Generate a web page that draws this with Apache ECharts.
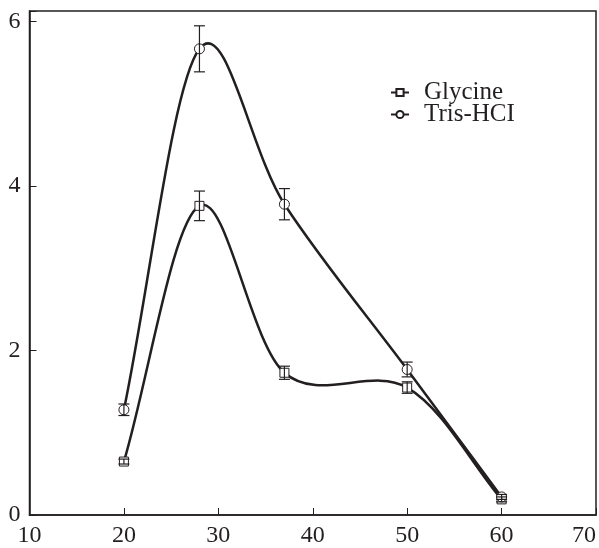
<!DOCTYPE html>
<html>
<head>
<meta charset="utf-8">
<script src="https://cdn.jsdelivr.net/npm/echarts@6/dist/echarts.min.js"></script>
<style>
  html, body { margin: 0; padding: 0; background: #fff; }
  #chart { width: 599px; height: 548px; }
</style>
</head>
<body>
<div id="chart"></div>
<script>
// temperature (x) and the two buffers
const temps = [20, 28, 37, 50, 60]
const glycine = [0.65, 3.76, 1.73, 1.55, 0.19]
const glycineErr = [0.03, 0.18, 0.08, 0.07, 0.03]
const tris = [1.28, 5.67, 3.78, 1.77, 0.22]
const trisErr = [0.07, 0.28, 0.19, 0.09, 0.03]
const xTicks = [10, 20, 30, 40, 50, 60, 70]
const yTicks = [0, 2, 4, 6]

const FONT = 'Liberation Serif'
const INK = '#231f20'

function pairs(ys) {
  return temps.map((t, i) => [t, ys[i]])
}
function errRows(ys, errs) {
  return temps.map((t, i) => [t, ys[i] - errs[i], ys[i] + errs[i]])
}

// error bars, drawn through the axis scales
function errorBar(params, api) {
  const x = api.value(0)
  const lo = api.coord([x, api.value(1)])
  const hi = api.coord([x, api.value(2)])
  const w = 5.5
  const style = { stroke: INK, lineWidth: 1.2 }
  return {
    type: 'group',
    children: [
      { type: 'line', shape: { x1: lo[0], y1: lo[1], x2: hi[0], y2: hi[1] }, style },
      { type: 'line', shape: { x1: lo[0] - w, y1: lo[1], x2: lo[0] + w, y2: lo[1] }, style },
      { type: 'line', shape: { x1: hi[0] - w, y1: hi[1], x2: hi[0] + w, y2: hi[1] }, style }
    ]
  }
}

// catmull-rom style curve through the data points (like the original plot),
// one bezier segment per point, all positions from api.coord
function curve(ys) {
  return function (params, api) {
    const i = params.dataIndex
    const n = temps.length
    if (i >= n - 1) return null
    const p = temps.map((t, k) => api.coord([t, ys[k]]))
    const p1 = p[i]
    const p2 = p[i + 1]
    // ends: mirror the neighbour so the curve leaves the end point straighter
    const p0 = i > 0 ? p[i - 1] : [2 * p1[0] - p2[0], 2 * p1[1] - p2[1]]
    const p3 = i + 2 < n ? p[i + 2] : [2 * p2[0] - p1[0], 2 * p2[1] - p1[1]]
    return {
      type: 'bezierCurve',
      shape: {
        x1: p1[0], y1: p1[1], x2: p2[0], y2: p2[1],
        cpx1: p1[0] + (p2[0] - p0[0]) / 6, cpy1: p1[1] + (p2[1] - p0[1]) / 6,
        cpx2: p2[0] - (p3[0] - p1[0]) / 6, cpy2: p2[1] - (p3[1] - p1[1]) / 6
      },
      style: { stroke: INK, lineWidth: 2.5, fill: null }
    }
  }
}

const chart = echarts.init(document.getElementById('chart'))
chart.setOption({
  animation: false,
  textStyle: { fontFamily: FONT },
  grid: {
    left: 29.5, right: 2, top: 11, bottom: 29,
    show: true, borderColor: INK, borderWidth: 1.5
  },
  legend: {
    orient: 'vertical',
    left: 390, top: 80, padding: 0,
    itemWidth: 18, itemHeight: 9, itemGap: -3,
    data: ['Glycine', 'Tris-HCI'],
    lineStyle: { color: INK, width: 2, opacity: 1 },
    textStyle: { fontFamily: FONT, fontSize: 25, color: INK, lineHeight: 22, padding: [0, 0, 0, 10] }
  },
  xAxis: {
    type: 'value',
    min: xTicks[0], max: xTicks[xTicks.length - 1], interval: 10,
    splitLine: { show: false },
    axisLine: { lineStyle: { color: INK, width: 1.5 } },
    axisTick: { inside: true, length: 7, lineStyle: { color: INK, width: 1 } },
    axisLabel: { fontFamily: FONT, fontSize: 24, color: INK, margin: 9, alignMaxLabel: 'right' }
  },
  yAxis: {
    type: 'value',
    min: yTicks[0], max: 6.13, interval: 2,
    splitLine: { show: false },
    axisLine: { lineStyle: { color: INK, width: 1.5 } },
    axisTick: { inside: true, length: 7, lineStyle: { color: INK, width: 1 } },
    axisLabel: {
      fontFamily: FONT, fontSize: 24, color: INK, margin: 9,
      formatter: v => (yTicks.indexOf(v) >= 0 ? String(v) : '')
    }
  },
  series: [
    {
      type: 'custom',
      renderItem: curve(glycine),
      data: pairs(glycine),
      encode: { x: 0, y: 1 },
      silent: true,
      z: 1
    },
    {
      type: 'custom',
      renderItem: curve(tris),
      data: pairs(tris),
      encode: { x: 0, y: 1 },
      silent: true,
      z: 1
    },
    {
      name: 'Glycine',
      type: 'line',
      data: pairs(glycine),
      symbol: 'rect',
      symbolSize: 9,
      lineStyle: { color: INK, width: 2.5, opacity: 0 },
      itemStyle: { color: '#fff', borderColor: INK, borderWidth: 1 },
      z: 2
    },
    {
      name: 'Tris-HCI',
      type: 'line',
      data: pairs(tris),
      symbol: 'circle',
      symbolSize: 10,
      lineStyle: { color: INK, width: 2.5, opacity: 0 },
      itemStyle: { color: '#fff', borderColor: INK, borderWidth: 1 },
      z: 2
    },
    {
      type: 'custom',
      renderItem: errorBar,
      data: errRows(glycine, glycineErr),
      encode: { x: 0, y: [1, 2] },
      silent: true,
      z: 5
    },
    {
      type: 'custom',
      renderItem: errorBar,
      data: errRows(tris, trisErr),
      encode: { x: 0, y: [1, 2] },
      silent: true,
      z: 5
    }
  ]
})
</script>
</body>
</html>
